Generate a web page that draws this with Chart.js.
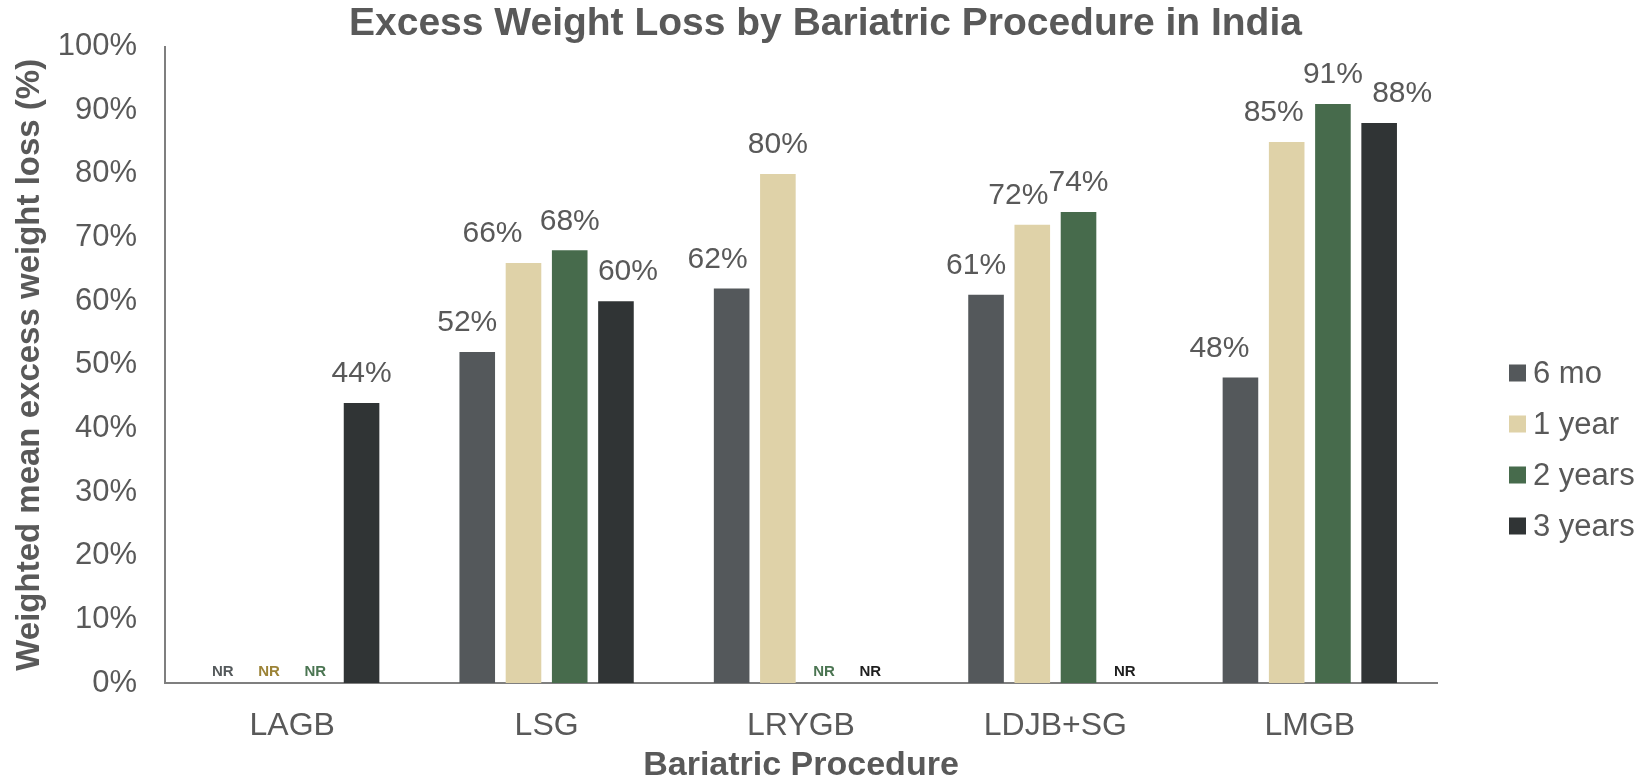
<!DOCTYPE html>
<html>
<head>
<meta charset="utf-8">
<title>Excess Weight Loss by Bariatric Procedure in India</title>
<script src="https://cdn.jsdelivr.net/npm/chart.js@4.4.1/dist/chart.umd.min.js"></script>
<style>
  html, body { margin: 0; padding: 0; background: #fff; }
  #wrap { width: 1651px; height: 783px; }
</style>
</head>
<body>
<div id="wrap"><canvas id="mainChart" width="1651" height="783"></canvas></div>
<script>
// values (null = NR, not reported)
const procedures = ['LAGB', 'LSG', 'LRYGB', 'LDJB+SG', 'LMGB'];
const sixMonths = [null, 52, 62, 61, 48];
const oneYear = [null, 66, 80, 72, 85];
const twoYears = [null, 68, null, 74, 91];
const threeYears = [44, 60, null, null, 88];
const yTicks = [0, 10, 20, 30, 40, 50, 60, 70, 80, 90, 100];

const TEXT = '#595959';
const FONT = "'Liberation Sans', Arial, sans-serif";

// small label nudges (px) the original used to keep labels apart
const labelShift = [
  [0, -10, -14, -10, -21],
  [0, -31, 0, -14, -13],
  [0, 0, 0, 0, 0],
  [0, 12, 0, 0, 23]
];

const series = [
  { label: '6 mo', data: sixMonths, color: '#54585b', nr: '#555a5c' },
  { label: '1 year', data: oneYear, color: '#dfd2a8', nr: '#9c8337' },
  { label: '2 years', data: twoYears, color: '#476b4c', nr: '#4b7552' },
  { label: '3 years', data: threeYears, color: '#303435', nr: '#1e1e1e' }
];

const barLabels = {
  id: 'barLabels',
  afterDatasetsDraw(chart) {
    const { ctx } = chart;
    ctx.save();
    ctx.textAlign = 'center';
    ctx.textBaseline = 'middle';
    chart.data.datasets.forEach((ds, di) => {
      const meta = chart.getDatasetMeta(di);
      meta.data.forEach((bar, i) => {
        const v = ds.data[i];
        if (v === null) {
          ctx.font = 'bold 15px ' + FONT;
          ctx.fillStyle = series[di].nr;
          ctx.fillText('NR', bar.x, chart.chartArea.bottom - 11);
          return;
        }
        ctx.font = '30px ' + FONT;
        ctx.fillStyle = TEXT;
        ctx.fillText(v + '%', bar.x + labelShift[di][i], bar.y - 29);
      });
    });
    ctx.restore();
  }
};

const sideLegend = {
  id: 'sideLegend',
  afterDraw(chart) {
    const { ctx } = chart;
    const x = chart.chartArea.right + 72;
    ctx.save();
    ctx.font = '31px ' + FONT;
    ctx.textBaseline = 'middle';
    ctx.textAlign = 'left';
    series.forEach((s, i) => {
      const y = 373 + i * 51;
      ctx.fillStyle = s.color;
      ctx.fillRect(x, y - 8.5, 17, 17);
      ctx.fillStyle = TEXT;
      ctx.fillText(s.label, x + 24, y + 1);
    });
    ctx.restore();
  }
};

document.addEventListener('DOMContentLoaded', function () {
  const ctx = document.getElementById('mainChart').getContext('2d');
  new Chart(ctx, {
    type: 'bar',
    data: {
      labels: procedures,
      datasets: series.map(s => ({
        label: s.label,
        data: s.data,
        backgroundColor: s.color,
        borderWidth: 0,
        barPercentage: 0.77,
        categoryPercentage: 0.727
      }))
    },
    options: {
      responsive: false,
      animation: false,
      layout: { padding: 0 },
      plugins: {
        legend: { display: false },
        tooltip: { enabled: false },
        title: {
          display: true,
          text: 'Excess Weight Loss by Bariatric Procedure in India',
          color: TEXT,
          font: { family: FONT, size: 39, weight: 'bold', lineHeight: 1.128 },
          padding: { top: 2, bottom: 0 }
        }
      },
      scales: {
        x: {
          grid: { display: false, drawTicks: false },
          border: { display: true, color: '#7f7f7f', width: 2 },
          ticks: {
            color: TEXT,
            padding: 24,
            maxRotation: 0,
            font: { family: FONT, size: 32 }
          },
          title: {
            display: true,
            text: 'Bariatric Procedure',
            color: TEXT,
            font: { family: FONT, size: 34, weight: 'bold', lineHeight: 1 },
            padding: { top: 0, bottom: 0 }
          },
          afterFit(scale) { scale.height = 100; }
        },
        y: {
          min: 0,
          max: 100,
          afterBuildTicks(scale) { scale.ticks = yTicks.map(v => ({ value: v })); },
          grid: { display: false, drawTicks: false },
          border: { display: true, color: '#7f7f7f', width: 2 },
          ticks: {
            color: TEXT,
            padding: 28,
            font: { family: FONT, size: 31 },
            callback: v => v + '%'
          },
          title: {
            display: true,
            text: 'Weighted mean excess weight loss (%)',
            color: TEXT,
            font: { family: FONT, size: 33, weight: 'bold', lineHeight: 1 },
            padding: { top: 13, bottom: 0 }
          },
          afterFit(scale) { scale.width = 165; }
        },
        // empty right-hand box that keeps room for the legend
        side: {
          axis: 'y',
          type: 'linear',
          position: 'right',
          grid: { display: false, drawTicks: false },
          border: { display: false },
          ticks: { display: false },
          afterFit(scale) { scale.width = 214; }
        }
      }
    },
    plugins: [barLabels, sideLegend]
  });
});
</script>
</body>
</html>
